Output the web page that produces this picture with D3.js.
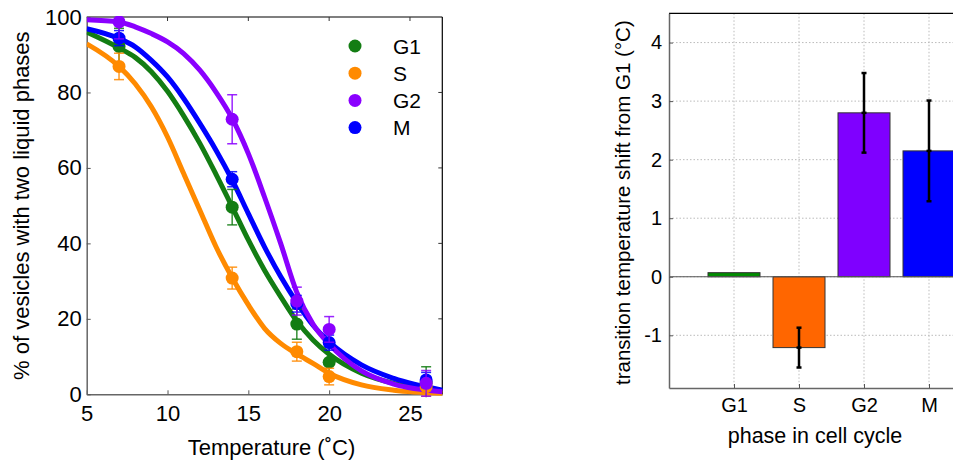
<!DOCTYPE html>
<html>
<head>
<meta charset="utf-8">
<script src="https://cdn.jsdelivr.net/npm/d3@7"></script>
<style>
  body { margin: 0; background: #fff; }
  svg { display: block; font-family: "Liberation Sans", Arial, sans-serif; }
</style>
</head>
<body>
<svg id="chart" width="953" height="462"></svg>
<script>
// ---- data ----
var phases = ["G1", "S", "G2", "M"]
var lineColors = ["#137d13", "#ff8a00", "#8a00ff", "#0000ff"]
var barColors = ["#008c00", "#ff6600", "#7f00ff", "#0000ff"]

// measured points
var temps = [7, 14, 18, 20, 26]
var meanG1 = [92.2, 49.6, 18.6, 8.5, 3.0]
var errG1 = [4.8, 4.7, 4.0, 4.2, 4.3]
var meanS = [86.9, 30.8, 11.3, 4.7, 2.0]
var errS = [3.5, 2.9, 2.5, 2.2, 2.5]
var meanG2 = [98.7, 72.9, 24.7, 17.2, 2.9]
var errG2 = [4.5, 6.5, 3.7, 3.4, 3.4]
var meanM = [94.4, 57.0, 24.0, 13.7, 3.8]
var errM = [2.0, 2.0, 2.2, 2.0, 2.0]

// fitted curves, sampled off the figure
var fitT = [5, 7, 8, 9, 10, 11, 12, 13, 14, 15, 16, 17, 18, 19, 20, 22, 24, 27]
var fitG1 = [96.0, 91.8, 89.3, 85.5, 80.3, 73.8, 66.5, 58.3, 49.7, 40.9, 32.9, 25.9, 19.4, 14.4, 10.6, 5.6, 2.9, 1.0]
var fitS = [92.9, 86.9, 82.3, 76.2, 68.2, 58.5, 48.8, 39.1, 30.9, 23.7, 17.5, 13.5, 10.7, 8.2, 5.6, 2.5, 1.1, 0.3]
var fitG2 = [99.3, 98.7, 97.4, 95.6, 93.4, 90.3, 85.9, 80.1, 73.1, 63.8, 52.3, 40.0, 27.0, 18.6, 13.3, 6.2, 2.7, 0.7]
var fitM = [96.9, 94.3, 92.1, 88.5, 84.1, 78.4, 71.8, 64.7, 56.8, 47.9, 39.1, 31.2, 24.3, 18.3, 13.9, 7.8, 4.2, 1.1]

// bar panel
var shift = [0.07, -1.21, 2.80, 2.15]
var shiftErr = [0, 0.34, 0.68, 0.86]

var xTicksL = [5, 10, 15, 20, 25]
var yTicksL = [0, 20, 40, 60, 80, 100]
var yTicksR = [-1, 0, 1, 2, 3, 4]

var series = [
  {name: "G1", mean: meanG1, err: errG1, fit: fitG1},
  {name: "S", mean: meanS, err: errS, fit: fitS},
  {name: "G2", mean: meanG2, err: errG2, fit: fitG2},
  {name: "M", mean: meanM, err: errM, fit: fitM}
]
series.forEach(function(s, i) { s.color = lineColors[i] })

var svg = d3.select("#chart")

function styleAxis(a, size) {
  a.select(".domain").attr("stroke", "#666").attr("stroke-width", 1.5)
  a.selectAll(".tick line").attr("stroke", "#555")
  a.selectAll("text").attr("font-size", size).attr("fill", "#000")
    .attr("font-family", "Liberation Sans, Arial, sans-serif")
}

// ================= left panel =================
var L = {left: 86.7, right: 442.3, top: 17, bottom: 394.3}
var x = d3.scaleLinear().domain([5, 27]).range([L.left, L.right])
var y = d3.scaleLinear().domain([0, 100]).range([L.bottom, L.top])

var left = svg.append("g").attr("class", "left-panel")

left.append("clipPath").attr("id", "clipL")
  .append("rect")
  .attr("x", L.left).attr("y", L.top - 1)
  .attr("width", L.right - L.left + 4).attr("height", L.bottom - L.top + 4)

// frame: top and right black
left.append("line").attr("x1", L.left).attr("x2", L.right).attr("y1", L.top).attr("y2", L.top)
  .attr("stroke", "#000").attr("stroke-width", 1.2)
left.append("line").attr("x1", L.right).attr("x2", L.right).attr("y1", L.top).attr("y2", L.bottom)
  .attr("stroke", "#000").attr("stroke-width", 1.2)

// inner ticks on top / right
left.selectAll(".ttick").data(xTicksL.slice(1)).enter().append("line")
  .attr("x1", x).attr("x2", x).attr("y1", L.top).attr("y2", L.top + 4)
  .attr("stroke", "#333")
left.selectAll(".rtick").data(yTicksL.slice(1, -1)).enter().append("line")
  .attr("x1", L.right - 4).attr("x2", L.right).attr("y1", y).attr("y2", y)
  .attr("stroke", "#333")

var xAxisL = left.append("g").attr("transform", "translate(0," + L.bottom + ")")
  .call(d3.axisBottom(x).tickValues(xTicksL).tickSizeInner(-4).tickSizeOuter(0).tickPadding(11))
var yAxisL = left.append("g").attr("transform", "translate(" + L.left + ",0)")
  .call(d3.axisLeft(y).tickValues(yTicksL).tickSizeInner(-4).tickSizeOuter(0).tickPadding(5))
styleAxis(xAxisL, 22)
styleAxis(yAxisL, 22)

var plot = left.append("g").attr("clip-path", "url(#clipL)")

var line = d3.line()
  .x(function(d) { return x(d[0]) })
  .y(function(d) { return y(d[1]) })
  .curve(d3.curveMonotoneX)

// draw order: G1, S, M, G2 (purple ends on top)
var order = [0, 1, 3, 2]

order.forEach(function(i) {
  var s = series[i]
  plot.append("path")
    .datum(d3.zip(fitT, s.fit))
    .attr("d", line)
    .attr("fill", "none")
    .attr("stroke", s.color)
    .attr("stroke-width", 5)
    .attr("stroke-linejoin", "round")
})

order.forEach(function(i) {
  var s = series[i]
  var pts = temps.map(function(t, k) { return {t: t, m: s.mean[k], e: s.err[k]} })
  var g = plot.append("g").attr("class", "pts-" + s.name)
  g.selectAll(".eb").data(pts).enter().append("line")
    .attr("x1", function(d) { return x(d.t) }).attr("x2", function(d) { return x(d.t) })
    .attr("y1", function(d) { return y(d.m - d.e) }).attr("y2", function(d) { return y(d.m + d.e) })
    .attr("stroke", s.color).attr("stroke-width", 1.5).attr("opacity", 0.85)
  ;[-1, 1].forEach(function(sign) {
    g.selectAll(".cap" + sign).data(pts).enter().append("line")
      .attr("x1", function(d) { return x(d.t) - 5 }).attr("x2", function(d) { return x(d.t) + 5 })
      .attr("y1", function(d) { return y(d.m + sign * d.e) }).attr("y2", function(d) { return y(d.m + sign * d.e) })
      .attr("stroke", s.color).attr("stroke-width", 1.5).attr("opacity", 0.85)
  })
  g.selectAll("circle").data(pts).enter().append("circle")
    .attr("cx", function(d) { return x(d.t) })
    .attr("cy", function(d) { return y(d.m) })
    .attr("r", 6.5)
    .attr("fill", s.color)
})

// legend
var legend = left.append("g").attr("transform", "translate(355,46)")
series.forEach(function(s, i) {
  legend.append("circle").attr("cx", 0).attr("cy", i * 27.2).attr("r", 6.5).attr("fill", s.color)
  legend.append("text").attr("x", 38).attr("y", i * 27.2).attr("dy", "0.36em")
    .attr("font-size", 21).text(s.name)
})

left.append("text")
  .attr("x", (L.left + L.right) / 2 + 7).attr("y", 455)
  .attr("text-anchor", "middle").attr("font-size", 22)
  .text("Temperature (˚C)")

left.append("text")
  .attr("transform", "translate(21," + ((L.top + L.bottom) / 2 + 0) + ") rotate(-90)")
  .attr("text-anchor", "middle").attr("dy", "0.35em").attr("font-size", 22)
  .text("% of vesicles with two liquid phases")

// ================= right panel =================
var R = {left: 669, right: 994, top: 13.3, bottom: 388}
var xb = d3.scaleLinear().domain([0, 5]).range([R.left, R.right])
var yb = d3.scaleLinear().domain([-1.9, 4.5]).range([R.bottom, R.top])
var right = svg.append("g").attr("class", "right-panel")

// dotted grid
right.selectAll(".hgrid").data(yTicksR).enter().append("line")
  .attr("x1", R.left).attr("x2", R.right).attr("y1", yb).attr("y2", yb)
  .attr("stroke", "#bbb").attr("stroke-dasharray", "1.5,2")
right.selectAll(".vgrid").data(phases).enter().append("line")
  .attr("x1", function(d, i) { return xb(i + 1) }).attr("x2", function(d, i) { return xb(i + 1) })
  .attr("y1", R.top).attr("y2", R.bottom)
  .attr("stroke", "#bbb").attr("stroke-dasharray", "1.5,2")

right.append("line").attr("x1", R.left).attr("x2", R.right).attr("y1", R.top).attr("y2", R.top)
  .attr("stroke", "#000").attr("stroke-width", 1.2)

var barW = xb(0.8) - xb(0)
right.selectAll(".bar").data(shift).enter().append("rect")
  .attr("x", function(d, i) { return xb(i + 1) - barW / 2 })
  .attr("y", function(d) { return yb(Math.max(0, d)) })
  .attr("width", barW)
  .attr("height", function(d) { return Math.abs(yb(d) - yb(0)) })
  .attr("fill", function(d, i) { return barColors[i] })
  .attr("stroke", "#333").attr("stroke-width", 1)

// zero line
right.append("line").attr("x1", R.left).attr("x2", R.right).attr("y1", yb(0)).attr("y2", yb(0))
  .attr("stroke", "#555").attr("stroke-width", 1.2)

var xAxisR = right.append("g").attr("transform", "translate(0," + R.bottom + ")")
  .call(d3.axisBottom(xb).tickValues([1, 2, 3, 4]).tickFormat(function(d) { return phases[d - 1] })
    .tickSizeInner(-4).tickSizeOuter(0).tickPadding(10))
var yAxisR = right.append("g").attr("transform", "translate(" + R.left + ",0)")
  .call(d3.axisLeft(yb).tickValues(yTicksR).tickFormat(function(d) { return String(d) })
    .tickSizeInner(-4).tickSizeOuter(0).tickPadding(7))
styleAxis(xAxisR, 20)
styleAxis(yAxisR, 20)

// error bars
var eb = shift.map(function(v, i) { return {i: i, v: v, e: shiftErr[i]} }).filter(function(d) { return d.e > 0 })
var ebg = right.append("g")
ebg.selectAll(".ev").data(eb).enter().append("line")
  .attr("x1", function(d) { return xb(d.i + 1) }).attr("x2", function(d) { return xb(d.i + 1) })
  .attr("y1", function(d) { return yb(d.v - d.e) }).attr("y2", function(d) { return yb(d.v + d.e) })
  .attr("stroke", "#000").attr("stroke-width", 2.5)
;[-1, 1, 0].forEach(function(sign) {
  ebg.selectAll(".ec" + sign).data(eb).enter().append("line")
    .attr("x1", function(d) { return xb(d.i + 1) - 2.5 }).attr("x2", function(d) { return xb(d.i + 1) + 2.5 })
    .attr("y1", function(d) { return yb(d.v + sign * d.e) }).attr("y2", function(d) { return yb(d.v + sign * d.e) })
    .attr("stroke", "#000").attr("stroke-width", 2.5)
})

right.append("text")
  .attr("x", 815).attr("y", 435).attr("dy", "0.35em")
  .attr("text-anchor", "middle").attr("font-size", 21.5)
  .text("phase in cell cycle")

right.append("text")
  .attr("transform", "translate(623," + ((R.top + R.bottom) / 2 + 2) + ") rotate(-90)")
  .attr("text-anchor", "middle").attr("dy", "0.35em").attr("font-size", 20.5)
  .text("transition temperature shift from G1 (°C)")
</script>
</body>
</html>
